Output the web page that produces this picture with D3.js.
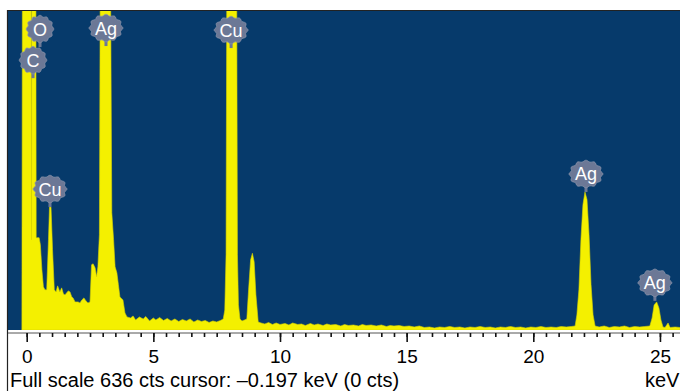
<!DOCTYPE html>
<html>
<head>
<meta charset="utf-8">
<script src="https://cdn.jsdelivr.net/npm/d3@7"></script>
<style>
	body { margin: 0; background: #fff; }
	svg { display: block; }
	text { font-family: 'Liberation Sans', Arial, sans-serif; }
</style>
</head>
<body>
<div class="content"></div>
<script>
const w = 680;
const h = 391;

const plotLeft = 8;
const plotTop = 11;
const plotBottom = 330;
const axisY = 333;

const blue = '#063a6b';
const yellow = '#f4f000';
const badgeColor = '#6c7896';

const fullScale = 636;

// spectrum (keV, counts)
const energyKeV = [
	-0.19, -0.17, 0.01, 0.17, 0.19, 0.21, 0.35, 0.375, 0.49, 0.54,
	0.60, 0.66, 0.72, 0.79, 0.86, 0.90, 0.96, 1.02, 1.09, 1.16,
	1.22, 1.31, 1.38, 1.45, 1.51, 1.64, 1.71, 1.78, 1.83, 1.91,
	2.03, 2.10, 2.18, 2.26, 2.34, 2.42, 2.50, 2.56, 2.62, 2.70,
	2.76, 2.81, 2.87, 2.91, 3.13, 3.31, 3.36, 3.43, 3.49, 3.56,
	3.62, 3.68, 3.80, 3.88, 3.96, 4.1, 4.2, 4.3, 4.45, 4.6,
	4.7, 4.85, 5.0, 5.1, 5.25, 5.4, 5.55, 5.7, 5.85, 6.0,
	6.15, 6.3, 6.45, 6.6, 6.75, 6.9, 7.05, 7.2, 7.35, 7.5,
	7.65, 7.76, 7.82, 7.87, 7.90, 8.07, 8.29, 8.32, 8.36, 8.42,
	8.5, 8.6, 8.69, 8.76, 8.84, 8.91, 8.98, 9.05, 9.14, 9.25,
	9.4, 9.55, 9.7, 9.85, 10.0, 10.2, 10.35, 10.5, 10.7, 10.85,
	11.0, 11.2, 11.35, 11.5, 11.7, 11.85, 12.0, 12.2, 12.4, 12.55,
	12.7, 12.9, 13.1, 13.25, 13.4, 13.6, 13.8, 14.0, 14.2, 14.35,
	14.5, 14.7, 14.9, 15.1, 15.3, 15.5, 15.7, 15.9, 16.1, 16.3,
	16.5, 16.7, 16.9, 17.1, 17.3, 17.5, 17.7, 17.9, 18.1, 18.3,
	18.5, 18.7, 18.9, 19.1, 19.3, 19.5, 19.7, 19.9, 20.1, 20.3,
	20.5, 20.7, 20.9, 21.1, 21.3, 21.5, 21.65, 21.72, 21.80, 21.88,
	21.96, 22.04, 22.12, 22.20, 22.28, 22.36, 22.44, 22.6, 22.8, 23.0,
	23.2, 23.4, 23.6, 23.8, 24.0, 24.2, 24.4, 24.6, 24.69, 24.77,
	24.87, 24.96, 25.04, 25.12, 25.20, 25.32, 25.40, 25.6, 25.8
];

const counts = [
	0, 700, 900, 1000, 180, 1400, 1200, 184, 184, 170,
	120, 86, 80, 80, 180, 245, 245, 160, 80, 76,
	88, 76, 84, 72, 70, 78, 76, 66, 64, 56,
	56, 54, 60, 64, 58, 54, 56, 130, 132, 124,
	106, 126, 190, 800, 1200, 700, 234, 180, 126, 114,
	90, 66, 60, 34, 26, 24, 28, 20, 26, 22,
	27, 18, 24, 20, 25, 19, 23, 18, 22, 17,
	21, 18, 22, 16, 20, 17, 19, 15, 18, 16,
	19, 22, 40, 150, 700, 1100, 700, 150, 50, 22,
	18, 20, 22, 80, 140, 153, 136, 70, 16, 14,
	12, 15, 11, 14, 11, 13, 10, 14, 11, 12,
	9, 13, 10, 12, 9, 12, 10, 11, 8, 11,
	9, 10, 8, 11, 9, 10, 8, 10, 7, 9,
	8, 9, 7, 8, 6, 8, 5, 6, 4, 6,
	5, 7, 5, 6, 4, 6, 5, 7, 5, 6,
	4, 6, 5, 7, 5, 6, 4, 6, 5, 7,
	5, 6, 5, 7, 6, 7, 8, 30, 80, 180,
	250, 275, 260, 190, 90, 30, 8, 6, 8, 5,
	7, 6, 8, 5, 7, 6, 7, 8, 24, 50,
	56, 44, 20, 6, 5, 14, 5, 6, 5
];

// peak labels
const labelNames = ['O', 'C', 'Ag', 'Cu', 'Cu', 'Ag', 'Ag'];
const labelEnergy = [0.525, 0.25, 3.13, 8.07, 0.92, 22.08, 24.80];
const labelCounts = [600, 538, 602, 598, 281, 311, 94];

const majorTicks = [0, 5, 10, 15, 20, 25];
const minorTicks = d3.range(0, 25.6, 0.5);

const footerText = 'Full scale 636 cts cursor: \u20130.197 keV (0 cts)';
const unitText = 'keV';

const spectrum = energyKeV.map((e, i) => ({ e: e, c: counts[i] }));
const labels = labelNames.map((n, i) => ({ name: n, e: labelEnergy[i], c: labelCounts[i] }));

const xScale = d3.scaleLinear()
	.domain([0, 25])
	.range([26.7, 26.7 + 25 * 25.33]);

const yScale = d3.scaleLinear()
	.domain([0, fullScale])
	.range([plotBottom, plotTop]);

const svg = d3.select('.content').append('svg')
	.attr('width', w)
	.attr('height', h);

svg.append('rect')
	.attr('width', w)
	.attr('height', h)
	.attr('fill', '#fff');

svg.append('clipPath')
	.attr('id', 'plot-clip')
	.append('rect')
	.attr('x', plotLeft)
	.attr('y', plotTop)
	.attr('width', w - plotLeft)
	.attr('height', plotBottom - plotTop);

svg.append('rect')
	.attr('x', plotLeft)
	.attr('y', plotTop)
	.attr('width', w - plotLeft)
	.attr('height', plotBottom - plotTop)
	.attr('fill', blue);

const area = d3.area()
	.x((d) => xScale(d.e))
	.y0(yScale(0))
	.y1((d) => yScale(d.c));

svg.append('path')
	.datum(spectrum)
	.attr('clip-path', 'url(#plot-clip)')
	.attr('d', area)
	.attr('fill', yellow)
	.attr('stroke', '#d8d400')
	.attr('stroke-width', 0.6);

// frame: top and left edges
svg.append('line')
	.attr('x1', plotLeft).attr('x2', w)
	.attr('y1', plotTop - 0.5).attr('y2', plotTop - 0.5)
	.attr('stroke', '#222').attr('stroke-width', 1.2);

svg.append('line')
	.attr('x1', plotLeft - 0.5).attr('x2', plotLeft - 0.5)
	.attr('y1', plotTop - 1).attr('y2', h)
	.attr('stroke', '#222').attr('stroke-width', 1.2);

// x axis
svg.append('line')
	.attr('x1', plotLeft).attr('x2', w)
	.attr('y1', axisY).attr('y2', axisY)
	.attr('stroke', '#555').attr('stroke-width', 1);

const minorAxis = d3.axisBottom(xScale)
	.tickValues(minorTicks)
	.tickSize(4)
	.tickFormat('');

const majorAxis = d3.axisBottom(xScale)
	.tickValues(majorTicks)
	.tickSize(9)
	.tickPadding(8)
	.tickFormat(d3.format('d'));

const gMinor = svg.append('g')
	.attr('transform', 'translate(0,' + axisY + ')')
	.call(minorAxis);

const gMajor = svg.append('g')
	.attr('transform', 'translate(0,' + axisY + ')')
	.call(majorAxis);

[gMinor, gMajor].forEach((g) => {
	g.select('.domain').remove();
	g.selectAll('line').attr('stroke', '#111').attr('stroke-width', 1.6);
});

gMajor.selectAll('text')
	.attr('fill', '#000')
	.style('font-size', '19px')
	.style('font-family', "'Liberation Sans', Arial, sans-serif");

svg.append('text')
	.attr('x', 10)
	.attr('y', 387)
	.style('font-size', '20px')
	.attr('fill', '#000')
	.text(footerText);

svg.append('text')
	.attr('x', 645)
	.attr('y', 387)
	.style('font-size', '20px')
	.attr('fill', '#000')
	.text(unitText);

// badges on the peaks
const badgeShape = (rx, ry) => {
	const pts = d3.range(0, 72).map((i) => {
		const t = i / 72 * Math.PI * 2;
		const k = 1 + 0.06 * Math.cos(12 * t);
		return [rx * k * Math.cos(t), ry * k * Math.sin(t)];
	});
	return d3.line().curve(d3.curveCardinalClosed)(pts);
};

const badges = svg.selectAll('.badge')
	.data(labels)
	.enter()
	.append('g')
	.attr('class', 'badge')
	.attr('transform', (d) => 'translate(' + xScale(d.e) + ',' + yScale(d.c) + ')');

badges.append('rect')
	.attr('x', -1.5)
	.attr('y', 8)
	.attr('width', 3)
	.attr('height', 10)
	.attr('fill', badgeColor);

badges.append('path')
	.attr('d', (d) => badgeShape(d.name.length > 1 ? 16 : 13, 13))
	.attr('fill', badgeColor)
	.attr('stroke', '#8a94ab')
	.attr('stroke-width', 0.8);

badges.append('text')
	.attr('text-anchor', 'middle')
	.attr('dy', '0.36em')
	.attr('fill', '#fff')
	.style('font-size', '18px')
	.text((d) => d.name);
</script>
</body>
</html>
